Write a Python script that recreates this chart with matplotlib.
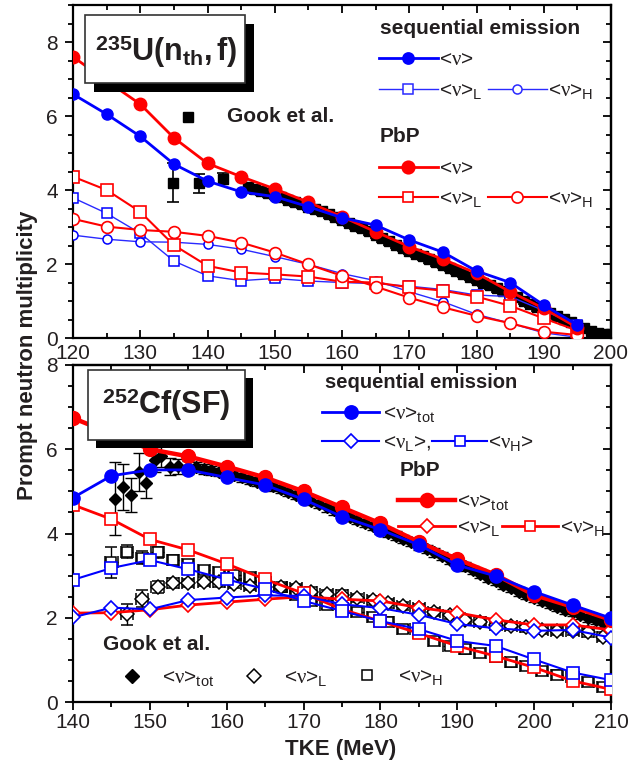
import matplotlib
matplotlib.use('Agg')
import matplotlib.pyplot as plt
from matplotlib.lines import Line2D
from matplotlib.patches import Rectangle
from matplotlib.ticker import MultipleLocator

plt.rcParams['font.family'] = ['Liberation Sans', 'DejaVu Sans']
plt.rcParams['mathtext.fontset'] = 'custom'
plt.rcParams['mathtext.rm'] = 'Liberation Sans'
plt.rcParams['mathtext.it'] = 'Liberation Serif'
plt.rcParams['mathtext.bf'] = 'Liberation Sans:bold'

TXT = '#231f20'
BLUE = '#0000ff'
BLUE_T = '#2a2aff'
RED = '#ff0000'

# ---------------- 235U(nth,f) ----------------
u_tke = [120, 125, 130, 135, 140, 145, 150, 155, 160, 165, 170, 175, 180, 185, 190, 195]
u_seq_tot = [6.59, 6.05, 5.45, 4.70, 4.24, 3.95, 3.82, 3.55, 3.25, 3.05, 2.65, 2.32, 1.81, 1.50, 0.89, 0.35]
u_seq_L = [3.79, 3.37, 2.83, 2.08, 1.68, 1.55, 1.61, 1.54, 1.50, 1.47, 1.40, 1.31, 1.16, 1.12, 0.74, 0.35]
u_seq_H = [2.78, 2.67, 2.60, 2.59, 2.53, 2.40, 2.20, 1.99, 1.74, 1.55, 1.25, 0.98, 0.64, 0.40, 0.14, 0.02]
u_pbp_tot = [7.60, 6.95, 6.32, 5.41, 4.72, 4.36, 4.03, 3.67, 3.28, 2.87, 2.47, 2.13, 1.75, 1.25, 0.80, 0.28]
u_pbp_L = [4.36, 4.00, 3.41, 2.51, 1.95, 1.77, 1.72, 1.66, 1.52, 1.50, 1.37, 1.28, 1.12, 0.87, 0.53, 0.20]
u_pbp_H = [3.22, 3.01, 2.92, 2.87, 2.76, 2.58, 2.31, 1.99, 1.68, 1.39, 1.09, 0.83, 0.60, 0.40, 0.17, 0.08]

gook_u_tke = [134.8, 138.7, 142.3, 146, 147, 148, 149, 150, 151, 152, 153, 154, 155, 156, 157, 158,
              159, 160, 161, 162, 163, 164, 165, 166, 167, 168, 169, 170, 171, 172, 173, 174,
              175, 176, 177, 178, 179, 180, 181, 182, 183, 184, 185, 186, 187, 188, 189, 190,
              191, 192, 193, 194, 195, 196, 197, 198, 199, 200]
gook_u_nu = [4.20, 4.18, 4.30, 4.07, 4.02, 3.98, 3.92, 3.86, 3.80, 3.74, 3.68, 3.61, 3.55, 3.48, 3.42, 3.35,
             3.28, 3.20, 3.12, 3.04, 2.96, 2.88, 2.79, 2.70, 2.61, 2.52, 2.44, 2.36, 2.28, 2.21, 2.13, 2.05,
             1.98, 1.90, 1.82, 1.74, 1.66, 1.58, 1.50, 1.42, 1.34, 1.26, 1.18, 1.10, 1.01, 0.93, 0.84, 0.76,
             0.68, 0.59, 0.51, 0.42, 0.34, 0.26, 0.19, 0.14, 0.11, 0.10]
gook_u_err = [0.53, 0.26, 0.15, 0.12, 0.12, 0.11, 0.11, 0.11, 0.10, 0.10, 0.10, 0.10, 0.10, 0.10, 0.10, 0.10,
              0.10, 0.10, 0.10, 0.10, 0.10, 0.10, 0.10, 0.10, 0.10, 0.10, 0.10, 0.10, 0.10, 0.10, 0.10, 0.10,
              0.10, 0.10, 0.10, 0.10, 0.10, 0.10, 0.10, 0.10, 0.10, 0.10, 0.10, 0.10, 0.10, 0.10, 0.10, 0.10,
              0.08, 0.08, 0.08, 0.08, 0.08, 0.08, 0.06, 0.05, 0.05, 0.05]

# ---------------- 252Cf(SF) ----------------
cf_tke = [140, 145, 150, 155, 160, 165, 170, 175, 180, 185, 190, 195, 200, 205, 210]
cf_seq_tot = [4.85, 5.37, 5.51, 5.51, 5.33, 5.15, 4.81, 4.40, 4.09, 3.73, 3.25, 2.99, 2.62, 2.30, 1.99]
cf_seq_L = [2.01, 2.24, 2.20, 2.42, 2.48, 2.53, 2.52, 2.32, 2.23, 2.07, 1.85, 1.75, 1.69, 1.71, 1.53]
cf_seq_H = [2.90, 3.18, 3.37, 3.15, 2.91, 2.68, 2.40, 2.16, 1.92, 1.73, 1.45, 1.33, 1.01, 0.70, 0.52]
cf_pbp_tot = [6.74, 6.37, 6.00, 5.83, 5.59, 5.33, 5.00, 4.62, 4.24, 3.80, 3.39, 3.02, 2.54, 2.26, 1.95]
cf_pbp_L = [2.11, 2.12, 2.19, 2.30, 2.37, 2.44, 2.50, 2.44, 2.40, 2.24, 2.12, 1.95, 1.83, 1.83, 1.71]
cf_pbp_H = [4.68, 4.34, 3.86, 3.61, 3.28, 2.91, 2.58, 2.20, 1.92, 1.63, 1.33, 1.09, 0.82, 0.50, 0.30]

gook_cf_tke = [145.5, 146.5, 147.5, 148.6, 149.5, 150.7, 151.5, 152.6, 153.7, 155, 156, 157, 158, 159,
               160, 161, 162, 163, 164, 165, 166, 167, 168, 169, 170, 171, 172, 173, 174, 175, 176,
               177, 178, 179, 180, 181, 182, 183, 184, 185, 186, 187, 188, 189, 190, 191, 192, 193,
               194, 195, 196, 197, 198, 199, 200, 201, 202, 203, 204, 205, 206, 207, 208, 209, 210]
gook_cf_tot = [4.83, 5.11, 4.92, 5.47, 5.19, 5.75, 5.83, 5.59, 5.60, 5.57, 5.58, 5.54, 5.50, 5.46,
               5.43, 5.38, 5.33, 5.28, 5.23, 5.19, 5.12, 5.05, 4.98, 4.92, 4.85, 4.78, 4.70, 4.62, 4.55, 4.48, 4.40,
               4.32, 4.25, 4.18, 4.10, 4.02, 3.95, 3.87, 3.80, 3.72, 3.63, 3.55, 3.47, 3.38, 3.30, 3.22, 3.13, 3.05,
               2.95, 2.87, 2.78, 2.70, 2.62, 2.55, 2.48, 2.40, 2.33, 2.26, 2.19, 2.13, 2.06, 2.00, 1.94, 1.88, 1.83]
gook_cf_tot_err = [0.86, 0.55, 0.40, 0.45, 0.35, 0.30, 0.25, 0.20, 0.18, 0.15, 0.12, 0.12, 0.10, 0.10,
                   0.10, 0.10, 0.10, 0.10, 0.10, 0.10, 0.10, 0.10, 0.10, 0.10, 0.10, 0.10, 0.10, 0.10, 0.10, 0.10, 0.10,
                   0.10, 0.10, 0.10, 0.10, 0.10, 0.10, 0.10, 0.10, 0.10, 0.10, 0.10, 0.10, 0.10, 0.10, 0.10, 0.10, 0.10,
                   0.10, 0.10, 0.10, 0.10, 0.10, 0.10, 0.10, 0.10, 0.10, 0.10, 0.10, 0.10, 0.10, 0.10, 0.10, 0.10, 0.10]
gook_cf_L_tke = [147, 149, 151, 153, 155, 157, 159, 161, 163, 165, 167, 169, 171, 173, 175, 177,
                 179, 181, 183, 185, 187, 189, 191, 193, 195, 197, 199, 201, 203, 205, 207, 209]
gook_cf_L = [2.08, 2.45, 2.73, 2.82, 2.82, 2.86, 2.84, 2.80, 2.76, 2.74, 2.72, 2.70, 2.62, 2.56, 2.55, 2.47,
             2.41, 2.34, 2.28, 2.22, 2.14, 2.07, 1.95, 1.91, 1.83, 1.80, 1.77, 1.72, 1.69, 1.68, 1.65, 1.55]
gook_cf_L_err = [0.25, 0.20, 0.15, 0.12, 0.10, 0.10, 0.10, 0.10, 0.10, 0.10, 0.10, 0.10, 0.10, 0.10, 0.10, 0.10,
                 0.10, 0.10, 0.10, 0.10, 0.10, 0.10, 0.10, 0.10, 0.10, 0.10, 0.10, 0.10, 0.10, 0.10, 0.10, 0.10]
gook_cf_H_tke = [145, 147, 149, 151, 153, 155, 157, 159, 161, 163, 165, 167, 169, 171, 173, 175, 177,
                 179, 181, 183, 185, 187, 189, 191, 193, 195, 197, 199, 201, 203, 205, 207, 209]
gook_cf_H = [3.32, 3.57, 3.43, 3.55, 3.37, 3.28, 3.13, 3.08, 3.02, 2.96, 2.85, 2.72, 2.55, 2.40, 2.30, 2.22, 2.14,
             2.02, 1.91, 1.73, 1.64, 1.45, 1.33, 1.25, 1.16, 1.08, 0.94, 0.86, 0.74, 0.65, 0.60, 0.48, 0.36]
gook_cf_H_err = [0.37, 0.15, 0.15, 0.12, 0.12, 0.10, 0.10, 0.10, 0.10, 0.10, 0.10, 0.10, 0.10, 0.10, 0.10, 0.10, 0.10,
                 0.10, 0.10, 0.10, 0.10, 0.10, 0.10, 0.10, 0.10, 0.10, 0.10, 0.10, 0.10, 0.10, 0.10, 0.10, 0.10]

W, H = 644, 772
fig = plt.figure(figsize=(W / 100, H / 100), dpi=100)


def axbox(l, r, t, b):
    return [l / W, 1 - b / H, (r - l) / W, (b - t) / H]


def fx(x):
    return x / W


def fy(y):
    return 1 - y / H


ax1 = fig.add_axes(axbox(73, 611, 5, 338))
ax2 = fig.add_axes(axbox(73, 611, 365, 702))

# ---------- top panel data ----------
ax1.errorbar(gook_u_tke, gook_u_nu, yerr=gook_u_err, fmt='s', color='black', ms=7,
             capsize=4, elinewidth=1.2, capthick=1.2, zorder=2)
ax1.plot(u_tke, u_seq_L, '-s', color=BLUE_T, lw=1.0, ms=6.5, mfc='white', mec=BLUE, mew=1.1, zorder=3)
ax1.plot(u_tke, u_seq_H, '-o', color=BLUE_T, lw=1.0, ms=6.5, mfc='white', mec=BLUE, mew=1.1, zorder=3)
ax1.plot(u_tke, u_pbp_L, '-s', color=RED, lw=1.5, ms=8, mfc='white', mec=RED, mew=1.2, zorder=3)
ax1.plot(u_tke, u_pbp_H, '-o', color=RED, lw=1.5, ms=8.5, mfc='white', mec=RED, mew=1.2, zorder=3)
ax1.plot(u_tke, u_pbp_tot, '-o', color=RED, lw=2.0, ms=9, zorder=4)
ax1.plot(u_tke, u_seq_tot, '-o', color=BLUE, lw=2.0, ms=8, zorder=5)

ax1.set_xlim(120, 200)
ax1.set_ylim(0, 9)
ax1.xaxis.set_major_locator(MultipleLocator(10))
ax1.xaxis.set_minor_locator(MultipleLocator(5))
ax1.yaxis.set_major_locator(MultipleLocator(2))
ax1.yaxis.set_minor_locator(MultipleLocator(0.5))
ax1.tick_params(axis='x', which='both', direction='in', top=True, bottom=True, pad=4)
ax1.tick_params(axis='y', which='both', direction='out', left=True, right=False, pad=5)

# ---------- bottom panel data ----------
ax2.errorbar(gook_cf_H_tke, gook_cf_H, yerr=gook_cf_H_err, xerr=0.8, fmt='s', color='black', ms=7,
             mfc='white', mec='black', mew=1.1, capsize=4, elinewidth=1.0, capthick=1.0, zorder=2)
ax2.errorbar(gook_cf_L_tke, gook_cf_L, yerr=gook_cf_L_err, xerr=0.8, fmt='D', color='black', ms=7,
             mfc='white', mec='black', mew=1.1, capsize=4, elinewidth=1.0, capthick=1.0, zorder=2)
ax2.errorbar(gook_cf_tke, gook_cf_tot, yerr=gook_cf_tot_err, fmt='D', color='black', ms=6.5,
             capsize=4, elinewidth=1.0, capthick=1.0, zorder=2)
ax2.plot(cf_tke, cf_pbp_L, '-D', color=RED, lw=2.0, ms=7, mfc='white', mec=RED, mew=1.2, zorder=3)
ax2.plot(cf_tke, cf_pbp_H, '-s', color=RED, lw=2.0, ms=8, mfc='white', mec=RED, mew=1.2, zorder=3)
ax2.plot(cf_tke, cf_seq_L, '-D', color=BLUE, lw=1.5, ms=7, mfc='white', mec=BLUE, mew=1.2, zorder=3)
ax2.plot(cf_tke, cf_seq_H, '-s', color=BLUE, lw=1.5, ms=8, mfc='white', mec=BLUE, mew=1.2, zorder=3)
ax2.plot(cf_tke, cf_pbp_tot, '-o', color=RED, lw=3.2, ms=10, zorder=4)
ax2.plot(cf_tke, cf_seq_tot, '-o', color=BLUE, lw=2.0, ms=9.5, zorder=5)

ax2.set_xlim(140, 210)
ax2.set_ylim(0, 8)
ax2.xaxis.set_major_locator(MultipleLocator(10))
ax2.xaxis.set_minor_locator(MultipleLocator(5))
ax2.yaxis.set_major_locator(MultipleLocator(2))
ax2.yaxis.set_minor_locator(MultipleLocator(0.5))
ax2.tick_params(axis='x', which='both', direction='out', top=False, bottom=True, pad=2)
ax2.tick_params(axis='y', which='both', direction='out', left=True, right=False, pad=5)

for ax in (ax1, ax2):
    for s in ax.spines.values():
        s.set_linewidth(1.6)
    ax.tick_params(which='major', length=6, width=1.3, labelsize=15, labelcolor=TXT)
    ax.tick_params(which='minor', length=3.5, width=1.3)
    secy = ax.secondary_yaxis('right')
    secy.yaxis.set_major_locator(MultipleLocator(2))
    secy.yaxis.set_minor_locator(MultipleLocator(0.5))
    secy.tick_params(which='both', direction='in', labelright=False, width=1.3)
    secy.tick_params(which='major', length=6)
    secy.tick_params(which='minor', length=3.5)
    secy.spines['right'].set_linewidth(1.6)

secx = ax2.secondary_xaxis('top')
secx.xaxis.set_major_locator(MultipleLocator(10))
secx.xaxis.set_minor_locator(MultipleLocator(5))
secx.tick_params(which='both', direction='in', labeltop=False, width=1.3)
secx.tick_params(which='major', length=6)
secx.tick_params(which='minor', length=3.5)
secx.spines['top'].set_linewidth(1.6)

# ---------- axis labels ----------
fig.text(fx(28), fy(355), 'Prompt neutron multiplicity', rotation=90, fontsize=16,
         fontweight='bold', ha='center', va='center', color=TXT)
fig.text(fx(341), fy(749), 'TKE (MeV)', fontsize=16, fontweight='bold',
         ha='center', va='center', color=TXT)

# ---------- title boxes ----------
def title_box(x0, y0, x1, y1, dx, dy, label, tx, ty):
    fig.add_artist(Rectangle((fx(x0 + dx), fy(y1 + dy)), (x1 - x0) / W, (y1 - y0) / H,
                             transform=fig.transFigure, facecolor='black', edgecolor='none', zorder=10))
    fig.add_artist(Rectangle((fx(x0), fy(y1)), (x1 - x0) / W, (y1 - y0) / H,
                             transform=fig.transFigure, facecolor='white', edgecolor='#333333',
                             lw=1.2, zorder=11))
    fig.text(fx(tx), fy(ty), label, fontsize=22, ha='center', va='center', color=TXT, zorder=12)


title_box(85, 15, 245, 83, 9, 9,
          r'$^{\mathbf{235}}\mathbf{U(n}_{\mathbf{th}}\mathbf{,f)}$', 166, 52)
title_box(88, 370, 245, 440, 8, 8,
          r'$^{\mathbf{252}}\mathbf{Cf(SF)}$', 166, 405)

# ---------- legends ----------
NU = r'$\nu$'


def leg(x1, x2, y, xm, color, lw, marker, ms, mfc, mew=1.2):
    fig.add_artist(Line2D([fx(x1), fx(x2)], [fy(y), fy(y)], color=color, lw=lw,
                          transform=fig.transFigure, zorder=10))
    fig.add_artist(Line2D([fx(xm)], [fy(y)], marker=marker, ms=ms, mfc=mfc, mec=color, mew=mew,
                          ls='none', transform=fig.transFigure, zorder=11))


def ltxt(x, y, s, size=15, weight='normal'):
    fig.text(fx(x), fy(y + 7), s, fontsize=size, fontweight=weight, ha='left',
             va='baseline', color=TXT, zorder=12)


# top legend
fig.text(fx(380), fy(28), 'sequential emission', fontsize=15, fontweight='bold',
         ha='left', va='center', color=TXT)
leg(379, 438, 58, 408, BLUE, 2.0, 'o', 8, BLUE)
ltxt(439, 58, '<' + NU + '>')
leg(379, 438, 89, 408, BLUE_T, 1.0, 's', 6.5, 'white', 1.1)
ltxt(439, 89, '<' + NU + '>$_\\mathregular{L}$')
leg(488, 547, 89, 517, BLUE_T, 1.0, 'o', 6.5, 'white', 1.1)
ltxt(548, 89, '<' + NU + '>$_\\mathregular{H}$')
fig.text(fx(380), fy(136), 'PbP', fontsize=15, fontweight='bold', ha='left', va='center', color=TXT)
leg(379, 438, 167, 408, RED, 2.0, 'o', 9, RED)
ltxt(439, 167, '<' + NU + '>')
leg(379, 438, 197, 408, RED, 1.5, 's', 7, 'white')
ltxt(439, 197, '<' + NU + '>$_\\mathregular{L}$')
leg(488, 547, 197, 517, RED, 1.5, 'o', 8, 'white')
ltxt(548, 197, '<' + NU + '>$_\\mathregular{H}$')

fig.add_artist(Line2D([fx(188)], [fy(117)], marker='s', ms=7, color='black', ls='none',
                      transform=fig.transFigure))
fig.text(fx(227), fy(117), 'Gook et al.', fontsize=15, fontweight='bold', ha='left',
         va='center', color=TXT)

# bottom legend
fig.text(fx(325), fy(383), 'sequential emission', fontsize=14.5, fontweight='bold',
         ha='left', va='center', color=TXT)
leg(322, 379, 412, 351, BLUE, 2.0, 'o', 9.5, BLUE)
ltxt(383, 412, '<' + NU + '>$_\\mathregular{tot}$')
leg(322, 379, 441, 351, BLUE, 1.5, 'D', 7, 'white')
ltxt(383, 441, '<' + NU + '$_\\mathregular{L}$>,')
leg(432, 487, 441, 460, BLUE, 1.5, 's', 7.5, 'white')
ltxt(488, 441, '<' + NU + '$_\\mathregular{H}$>')
fig.text(fx(400), fy(471), 'PbP', fontsize=15, fontweight='bold', ha='left', va='center', color=TXT)
leg(398, 455, 500, 427, RED, 3.2, 'o', 10, RED)
ltxt(457, 500, '<' + NU + '>$_\\mathregular{tot}$')
leg(398, 455, 526, 427, RED, 2.0, 'D', 7, 'white')
ltxt(457, 526, '<' + NU + '>$_\\mathregular{L}$')
leg(502, 558, 526, 530, RED, 2.0, 's', 7.5, 'white')
ltxt(560, 526, '<' + NU + '>$_\\mathregular{H}$')

fig.text(fx(103), fy(644), 'Gook et al.', fontsize=15, fontweight='bold', ha='left',
         va='center', color=TXT)
fig.add_artist(Line2D([fx(132)], [fy(676)], marker='D', ms=7, color='black', ls='none',
                      transform=fig.transFigure))
ltxt(162, 676, '<' + NU + '>$_\\mathregular{tot}$')
fig.add_artist(Line2D([fx(254)], [fy(676)], marker='D', ms=7, mfc='white', mec='black', mew=1.1,
                      ls='none', transform=fig.transFigure))
ltxt(284, 676, '<' + NU + '>$_\\mathregular{L}$')
fig.add_artist(Line2D([fx(367)], [fy(675)], marker='s', ms=7, mfc='white', mec='black', mew=1.1,
                      ls='none', transform=fig.transFigure))
ltxt(398, 675, '<' + NU + '>$_\\mathregular{H}$')

fig.savefig('out.png', dpi=100)
